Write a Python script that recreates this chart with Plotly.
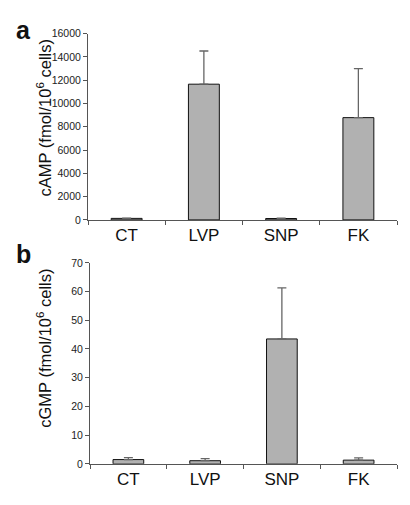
import plotly.graph_objects as go

categories = ["CT", "LVP", "SNP", "FK"]
camp_values = [130, 11650, 120, 8780]
camp_err = [30, 2850, 40, 4210]
cgmp_values = [1.5, 1.1, 43.5, 1.3]
cgmp_err = [0.7, 0.7, 17.8, 0.8]

# page body has an 8px default margin; lay out in window pixels and offset
OFF = 8
W = 410.0 - OFF
H = 505.0 - OFF
def fx(px):
    return (px - OFF) / W
def fy(px):
    return 1 - (px - OFF) / H

fig = go.Figure()
bar_style = dict(marker=dict(color="#b1b1b1", line=dict(color="#111111", width=1)), width=0.4, showlegend=False)
err_style = dict(type="data", symmetric=False, arrayminus=[0]*4, color="#666666", thickness=1.3, width=4.5)
fig.add_trace(go.Bar(x=categories, y=camp_values, xaxis="x", yaxis="y",
                     error_y=dict(array=camp_err, **err_style), **bar_style))
fig.add_trace(go.Bar(x=categories, y=cgmp_values, xaxis="x2", yaxis="y2",
                     error_y=dict(array=cgmp_err, **err_style), **bar_style))

axfont = dict(family="Liberation Sans, Arial", size=10.5, color="#222")
catfont = dict(family="Liberation Sans, Arial", size=17, color="#111")
titlefont = dict(family="Liberation Sans, Arial", size=16.5, color="#111")
xcommon = dict(showline=True, linecolor="#555", linewidth=1, ticks="outside", tickson="boundaries",
               ticklen=4, tickcolor="#555", tickfont=catfont, showgrid=False, zeroline=False)
ycommon = dict(showline=True, linecolor="#555", linewidth=1, ticks="outside", ticklen=4,
               tickcolor="#555", tickfont=axfont, showgrid=False, zeroline=False, tickformat="d")

fig.update_layout(
    width=int(W), height=int(H), margin=dict(l=0, r=0, t=0, b=0),
    paper_bgcolor="white", plot_bgcolor="white",
    xaxis=dict(domain=[fx(88), fx(397)], anchor="y", **xcommon),
    yaxis=dict(domain=[fy(219), fy(28)], anchor="x", range=[0, 16000], dtick=2000, **ycommon),
    xaxis2=dict(domain=[fx(90), fx(397)], anchor="y2", **xcommon),
    yaxis2=dict(domain=[fy(469), fy(263)], anchor="x2", range=[0, 70], dtick=10, **ycommon),
    annotations=[
        dict(text="<b>a</b>", x=fx(14), y=fy(8), xref="paper", yref="paper", xanchor="left", yanchor="top",
             showarrow=False, font=dict(family="Liberation Sans", size=25, color="#111")),
        dict(text="<b>b</b>", x=fx(14), y=fy(238), xref="paper", yref="paper", xanchor="left", yanchor="top",
             showarrow=False, font=dict(family="Liberation Sans", size=25, color="#111")),
        dict(text="cAMP (fmol/10<sup>6</sup> cells)", x=fx(44), y=fy(115), xref="paper", yref="paper",
             xanchor="center", yanchor="middle", textangle=-90, showarrow=False, font=titlefont),
        dict(text="cGMP (fmol/10<sup>6</sup> cells)", x=fx(44), y=fy(351), xref="paper", yref="paper",
             xanchor="center", yanchor="middle", textangle=-90, showarrow=False, font=titlefont),
    ],
)

fig.write_html("out.html")
